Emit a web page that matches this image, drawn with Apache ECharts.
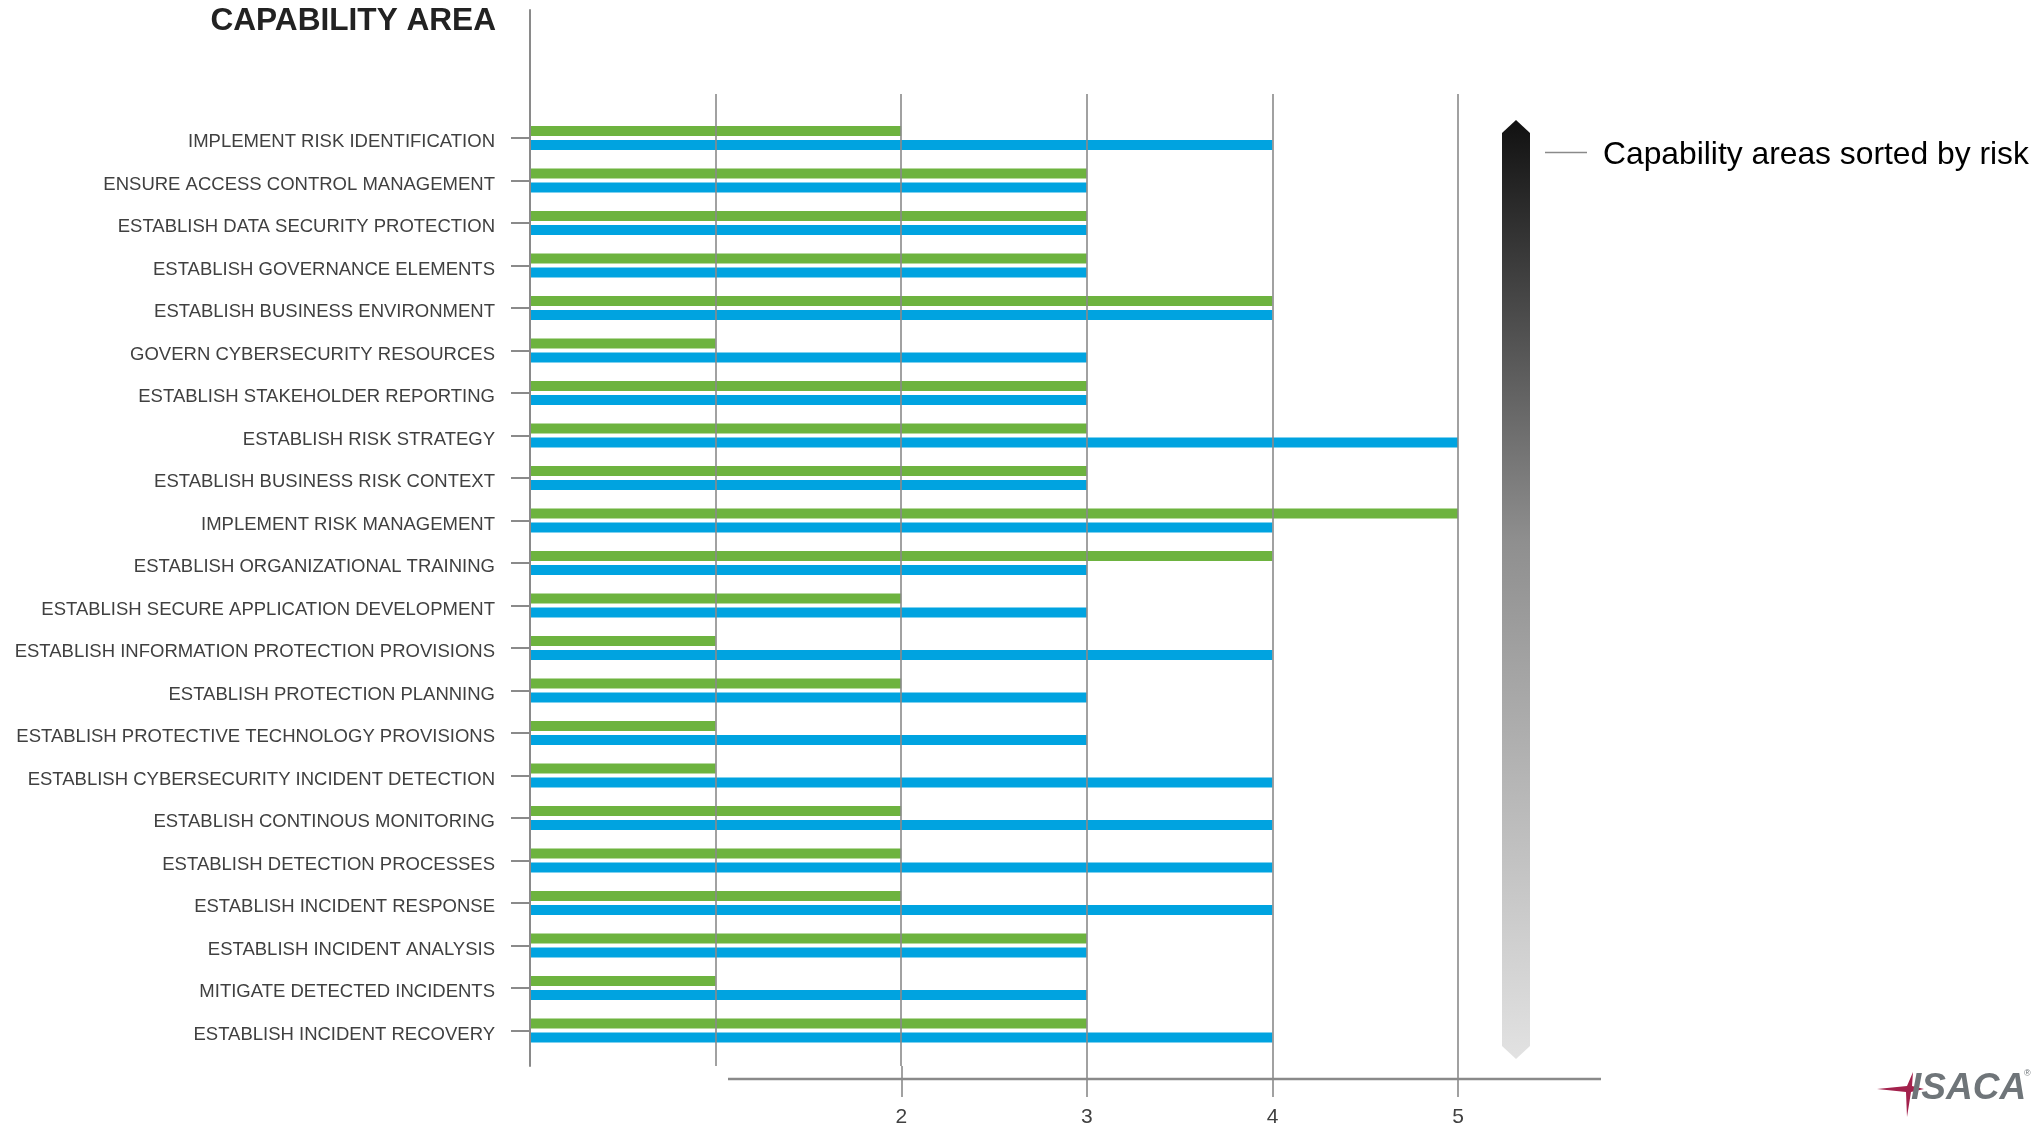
<!DOCTYPE html>
<html><head><meta charset="utf-8">
<script src="https://cdn.jsdelivr.net/npm/echarts@6/dist/echarts.min.js"></script>
<style>html,body{margin:0;padding:0;background:#fff}#c{width:2038px;height:1125px}</style>
</head><body><div id="c"></div>
<script>
const categories = [
  'IMPLEMENT RISK IDENTIFICATION',
  'ENSURE ACCESS CONTROL MANAGEMENT',
  'ESTABLISH DATA SECURITY PROTECTION',
  'ESTABLISH GOVERNANCE ELEMENTS',
  'ESTABLISH BUSINESS ENVIRONMENT',
  'GOVERN CYBERSECURITY RESOURCES',
  'ESTABLISH STAKEHOLDER REPORTING',
  'ESTABLISH RISK STRATEGY',
  'ESTABLISH BUSINESS RISK CONTEXT',
  'IMPLEMENT RISK MANAGEMENT',
  'ESTABLISH ORGANIZATIONAL TRAINING',
  'ESTABLISH SECURE APPLICATION DEVELOPMENT',
  'ESTABLISH INFORMATION PROTECTION PROVISIONS',
  'ESTABLISH PROTECTION PLANNING',
  'ESTABLISH PROTECTIVE TECHNOLOGY PROVISIONS',
  'ESTABLISH CYBERSECURITY INCIDENT DETECTION',
  'ESTABLISH CONTINOUS MONITORING',
  'ESTABLISH DETECTION PROCESSES',
  'ESTABLISH INCIDENT RESPONSE',
  'ESTABLISH INCIDENT ANALYSIS',
  'MITIGATE DETECTED INCIDENTS',
  'ESTABLISH INCIDENT RECOVERY'
];
const greenValues = [2,3,3,3,4,1,3,3,3,5,4,2,1,2,1,1,2,2,2,3,1,3];
const blueValues  = [4,3,3,3,4,3,3,5,3,4,3,3,4,3,3,4,4,4,4,3,3,4];
const scaleMin = 0;
const scaleMax = 5;
const labelledTickMin = 2;
const titleText = 'CAPABILITY AREA';
const arrowText = 'Capability areas sorted by risk';
const logoText = 'ISACA';

const FONT = 'Liberation Sans, Arial, sans-serif';
const GRID_COLOR = '#8a8a8a';
const chart = echarts.init(document.getElementById('c'));

const plotLeft = 530, plotRight = 2038 - 1458;

chart.setOption({
  animation: false,
  backgroundColor: '#ffffff',
  title: {
    text: titleText,
    right: 2038 - 496,
    top: 5,
    padding: 0,
    textStyle: { fontFamily: FONT, fontWeight: 'bold', fontSize: 31.6, color: '#222222' }
  },
  grid: [
    { left: plotLeft, right: plotRight, top: 116.75, height: 935, outerBoundsMode: 'none', containLabel: false },
    { left: plotLeft, right: plotRight, top: 94, height: 972, outerBoundsMode: 'none', containLabel: false },
    { left: 901.4, right: plotRight, top: 1066, height: 31, outerBoundsMode: 'none', containLabel: false },
    { left: plotLeft, right: plotRight, top: 10, height: 1056, outerBoundsMode: 'none', containLabel: false }
  ],
  xAxis: [
    { gridIndex: 0, type: 'value', min: scaleMin, max: scaleMax, interval: 1, show: false },
    { gridIndex: 1, type: 'value', min: scaleMin, max: scaleMax, interval: 1, z: 5,
      axisLine: { show: false }, axisTick: { show: false }, axisLabel: { show: false },
      splitLine: { show: true, lineStyle: { color: GRID_COLOR, width: 1.6 } } },
    { gridIndex: 2, type: 'value', min: labelledTickMin, max: scaleMax, interval: 1, z: 5, position: 'bottom',
      axisLine: { show: false }, axisTick: { show: false },
      axisLabel: { show: true, margin: 10, fontFamily: FONT, fontSize: 21, color: '#404040', showMinLabel: true, showMaxLabel: true },
      splitLine: { show: true, lineStyle: { color: GRID_COLOR, width: 1.6 } } },
    { gridIndex: 3, type: 'value', min: scaleMin, max: scaleMax, show: false }
  ],
  yAxis: [
    { gridIndex: 0, type: 'category', data: categories, inverse: true,
      axisLine: { show: false },
      axisTick: { show: true, alignWithLabel: true, length: 19, lineStyle: { color: GRID_COLOR, width: 2 } },
      axisLabel: { interval: 0, margin: 35, fontFamily: FONT, fontSize: 18.5, color: '#404040',
        verticalAlign: 'top', lineHeight: 8 },
      splitLine: { show: false } },
    { gridIndex: 1, type: 'value', show: false },
    { gridIndex: 2, type: 'value', show: false },
    { gridIndex: 3, type: 'value', z: 6,
      axisLine: { show: true, onZero: false, lineStyle: { color: GRID_COLOR, width: 2 } },
      axisTick: { show: false }, axisLabel: { show: false }, splitLine: { show: false } }
  ],
  series: [
    { name: 'Current capability', type: 'bar', xAxisIndex: 0, yAxisIndex: 0, data: greenValues,
      barWidth: 10, barGap: '40%', itemStyle: { color: '#6db33f' } },
    { name: 'Target capability', type: 'bar', xAxisIndex: 0, yAxisIndex: 0, data: blueValues,
      barWidth: 10, barGap: '40%', itemStyle: { color: '#00a3e0' } }
  ],
  graphic: [
    { type: 'polygon', z: 10,
      shape: { points: [[1516, 120], [1530, 133], [1530, 1046], [1516, 1059], [1502, 1046], [1502, 133]] },
      style: { fill: new echarts.graphic.LinearGradient(0, 0, 0, 1, [
        { offset: 0, color: '#111111' },
        { offset: 0.45, color: '#8f8f8f' },
        { offset: 1, color: '#e2e2e2' }
      ]) } },
    { type: 'line', z: 10, shape: { x1: 1545, y1: 152.5, x2: 1587, y2: 152.5 },
      style: { stroke: '#8a8a8a', lineWidth: 1.5 } },
    { type: 'text', z: 10, x: 1603, y: 155,
      style: { text: arrowText, fontFamily: FONT, fontSize: 31.8, fill: '#000000', verticalAlign: 'middle', align: 'left' } },
    { type: 'line', z: 10, shape: { x1: 728, y1: 1079, x2: 1601, y2: 1079 },
      style: { stroke: '#8a8a8a', lineWidth: 2.5 } },
    { type: 'polygon', z: 10,
      shape: { points: [[1877, 1089], [1907, 1086], [1913, 1072], [1912, 1086], [1924, 1089], [1911, 1092], [1907, 1117], [1906, 1092]] },
      style: { fill: '#a3214c' } },
    { type: 'text', z: 11, x: 1911, y: 1089,
      style: { text: logoText, fontFamily: FONT, fontSize: 37, fontWeight: 'bold', fontStyle: 'italic', fill: '#6f7579', verticalAlign: 'middle', align: 'left' } },
    { type: 'text', z: 11, x: 2024, y: 1074,
      style: { text: '®', fontFamily: FONT, fontSize: 9, fill: '#6f7579', verticalAlign: 'middle', align: 'left' } }
  ]
});
</script>
</body></html>
